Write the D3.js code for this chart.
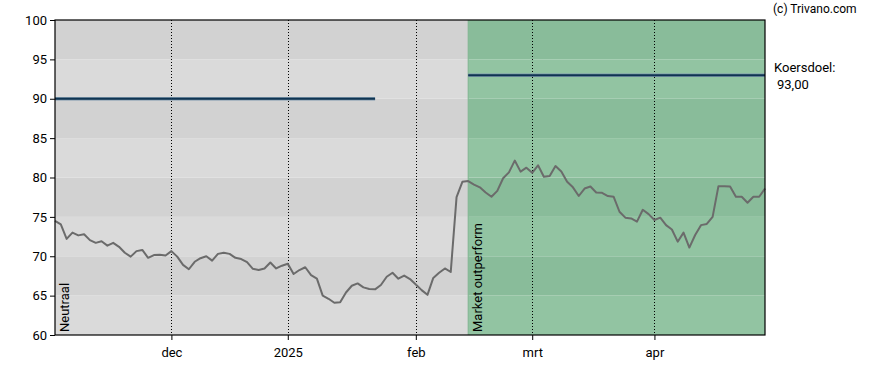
<!DOCTYPE html>
<html><head><meta charset="utf-8">
<script src="https://cdn.jsdelivr.net/npm/d3@7"></script>
<style>body{margin:0;background:#fff}svg{display:block;font-family:Roboto,"Liberation Sans",sans-serif}</style>
</head><body><svg id="c" width="888" height="370"></svg>
<script>
const prices = [74.5,74.05,72.2,73.0,72.65,72.8,72.05,71.7,71.9,71.35,
71.7,71.2,70.45,69.95,70.65,70.8,69.8,70.15,70.2,70.1,
70.65,69.95,68.9,68.35,69.3,69.75,70.0,69.45,70.3,70.45,
70.3,69.8,69.65,69.25,68.4,68.25,68.45,69.2,68.45,68.8,
69.05,67.75,68.25,68.6,67.6,67.15,65.0,64.6,64.1,64.15,
65.4,66.25,66.55,66.05,65.85,65.8,66.35,67.4,67.9,67.15,
67.55,67.1,66.4,65.7,65.1,67.25,67.9,68.45,68.0,77.5,
79.45,79.55,79.1,78.75,78.1,77.55,78.3,79.9,80.65,82.15,
80.75,81.25,80.6,81.55,80.1,80.2,81.45,80.75,79.45,78.75,
77.65,78.6,78.85,78.1,78.05,77.65,77.55,75.65,74.9,74.8,
74.4,75.9,75.35,74.6,74.9,73.95,73.4,71.85,73.0,71.1,
72.7,73.95,74.1,75.0,78.9,78.9,78.85,77.55,77.55,76.8,
77.55,77.55,78.6];
const monthLabels = ["dec","2025","feb","mrt","apr"];
const monthIndex = [20,40,62,82,103];
const yTicks = [60,65,70,75,80,85,90,95,100];
const periods = [{label:"Neutraal", from:0, to:71, target:90, targetTo:55},
                 {label:"Market outperform", from:71, to:122, target:93, targetTo:122}];
const targetText = ["Koersdoel:", "93,00"];

const svg = d3.select("#c");
const L=55,R=765,T=20,B=335;
const x = d3.scaleLinear().domain([0,prices.length-1]).range([L,R]);
const y = d3.scaleLinear().domain([60,100]).range([B,T]);

const bandCols = {gray:["#dadada","#d2d2d2"], green:["#92c4a2","#89bc9a"]};
periods.forEach((p,pi)=>{
  const cols = pi===0?bandCols.gray:bandCols.green;
  for(let k=0;k<yTicks.length-1;k++){
    svg.append("rect").attr("x",x(p.from)).attr("width",x(p.to)-x(p.from))
      .attr("y",y(yTicks[k+1])).attr("height",y(yTicks[k])-y(yTicks[k+1]))
      .attr("fill",cols[k%2]);
  }
});
svg.append("line").attr("x1",x(71)).attr("x2",x(71)).attr("y1",T).attr("y2",B)
  .attr("stroke","#7db38f").attr("stroke-width",1);

// vertical dotted grid
monthIndex.forEach(i=>{
  svg.append("line").attr("x1",Math.round(x(i))+0.5).attr("x2",Math.round(x(i))+0.5)
    .attr("y1",T).attr("y2",B).attr("stroke","#000").attr("stroke-dasharray","1,2");
});

// target lines
periods.forEach(p=>{
  svg.append("line").attr("x1",x(p.from)).attr("x2",x(p.targetTo))
    .attr("y1",y(p.target)).attr("y2",y(p.target))
    .attr("stroke","#7f98ad").attr("stroke-width",3.5);
  svg.append("line").attr("x1",x(p.from)).attr("x2",x(p.targetTo))
    .attr("y1",y(p.target)).attr("y2",y(p.target))
    .attr("stroke","#0f3452").attr("stroke-width",2);
});

// price line
svg.append("path").datum(prices)
  .attr("d",d3.line().x((d,i)=>x(i)).y(d=>y(d)))
  .attr("fill","none").attr("stroke","#6b6b6b").attr("stroke-width",2)
  .attr("stroke-linejoin","round");

// period labels
periods.forEach(p=>{
  svg.append("text").attr("transform",`translate(${x(p.from)+14},${B-3}) rotate(-90)`)
    .attr("font-size",13).attr("fill","#000").text(p.label);
});

// frame
svg.append("rect").attr("x",L).attr("y",T).attr("width",R-L).attr("height",B-T)
  .attr("fill","none").attr("stroke","#000").attr("stroke-width",1.2);

// y axis
const ya = svg.append("g").attr("transform",`translate(${L},0)`)
  .call(d3.axisLeft(y).tickValues(yTicks).tickSize(5).tickSizeOuter(0).tickFormat(d3.format("d")));
ya.select(".domain").remove();
ya.selectAll("text").attr("font-size",13).attr("fill","#000").attr("font-family","Roboto,sans-serif");
ya.selectAll("line").attr("stroke","#000");

// x axis
const xa = svg.append("g").attr("transform",`translate(0,${B})`)
  .call(d3.axisBottom(x).tickValues(monthIndex).tickSize(5).tickSizeOuter(0)
    .tickFormat((d,i)=>monthLabels[i]));
xa.select(".domain").remove();
xa.selectAll("text").attr("font-size",13).attr("fill","#000").attr("dy","1.1em").attr("font-family","Roboto,sans-serif");
xa.selectAll("line").attr("stroke","#000");

svg.append("text").attr("x",773).attr("y",13).attr("font-size",12).attr("fill","#000").text("(c) Trivano.com");
svg.append("text").attr("x",774).attr("y",72).attr("font-size",13).attr("fill","#000").text(targetText[0]);
svg.append("text").attr("x",777).attr("y",89).attr("font-size",13).attr("fill","#000").text(targetText[1]);
</script></body></html>
